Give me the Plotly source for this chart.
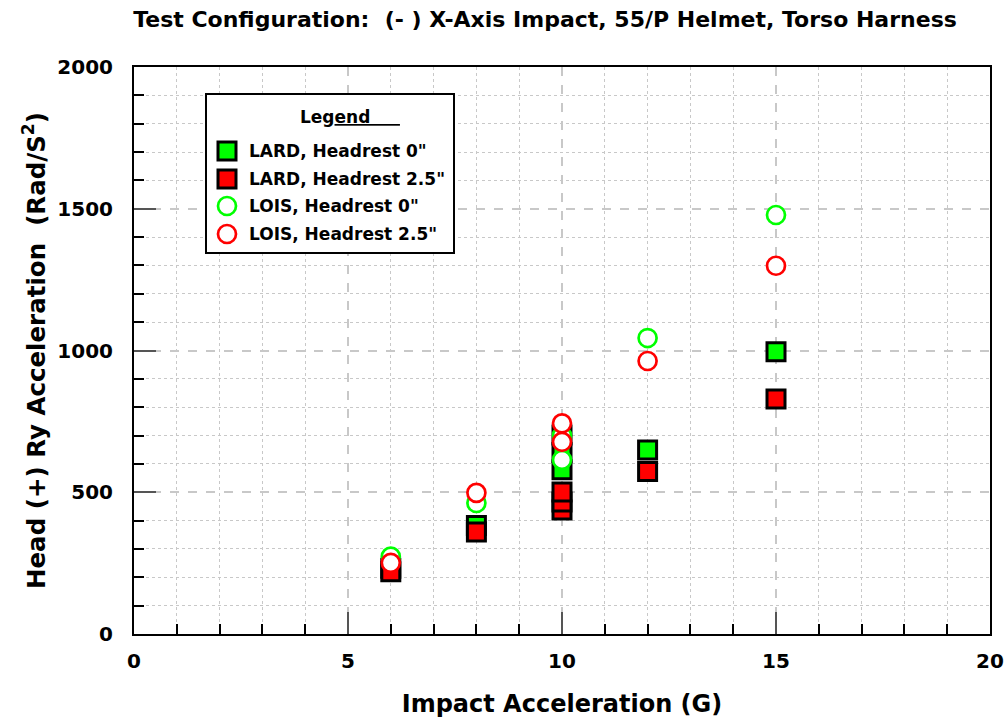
import plotly.graph_objects as go

# ---- data ----
lard0_x = [6, 8, 10, 10, 10, 12, 15]
lard0_y = [232, 383, 702, 640, 579, 649, 996]
lard25_x = [6, 8, 10, 10, 10, 12, 15]
lard25_y = [220, 360, 437, 466, 501, 573, 829]
lois0_x = [6, 8, 10, 10, 12, 15]
lois0_y = [273, 462, 700, 614, 1044, 1478]
lois25_x = [6, 8, 10, 10, 12, 15]
lois25_y = [251, 498, 678, 743, 963, 1299]

names = ['LARD, Headrest 0"', 'LARD, Headrest 2.5"',
         'LOIS, Headrest 0"', 'LOIS, Headrest 2.5"']

FONT = "DejaVu Sans, Liberation Sans, Arial, sans-serif"
GREEN = "#00ff00"
RED = "#ff0000"

styles = [
    dict(symbol="square", size=18, color=GREEN, line=dict(color="black", width=3)),
    dict(symbol="square", size=18, color=RED, line=dict(color="black", width=3)),
    dict(symbol="circle", size=18, color="white", line=dict(color=GREEN, width=2.7)),
    dict(symbol="circle", size=18, color="white", line=dict(color=RED, width=2.7)),
]
series = [(lard0_x, lard0_y), (lard25_x, lard25_y), (lois0_x, lois0_y), (lois25_x, lois25_y)]

fig = go.Figure()
for (xs, ys), nm, st in zip(series, names, styles):
    fig.add_trace(go.Scatter(x=xs, y=ys, mode="markers", name=nm,
                             marker=st, showlegend=False))

W, H = 1008, 724
L, R, T, B = 134, 990, 67, 634
PW, PH = R - L, B - T


def px(xp):
    return (xp - L) / PW


def py(yp):
    return (B - yp) / PH


axis_common = dict(
    showline=True, linecolor="black", linewidth=2, mirror=True,
    showgrid=True, gridcolor="#c8c8c8", gridwidth=1.5, griddash="dash",
    ticks="inside", ticklen=22, tickcolor="#555555", tickwidth=2,
    zeroline=False, automargin=False,
    tickfont=dict(family=FONT, size=20, color="black", weight="bold"),
)

fig.update_xaxes(
    range=[0, 20], dtick=5, tick0=0, **axis_common,
    minor=dict(dtick=1, showgrid=True, gridcolor="#c8c8c8", gridwidth=1,
               griddash="dot", ticks="inside", ticklen=10, tickcolor="black",
               tickwidth=2),
    ticklabelstandoff=8,
    title=dict(text="Impact Acceleration (G)", standoff=23,
               font=dict(family=FONT, size=24, color="black", weight="bold")),
)
fig.update_yaxes(
    range=[0, 2000], dtick=500, tick0=0, **axis_common,
    minor=dict(dtick=100, showgrid=True, gridcolor="#c8c8c8", gridwidth=1,
               griddash="dot", ticks="inside", ticklen=10, tickcolor="black",
               tickwidth=2),
    ticklabelstandoff=15,
    title=dict(text="Head (+) Ry Acceleration  (Rad/S<sup>2</sup>)", standoff=5,
               font=dict(family=FONT, size=24.5, color="black", weight="bold")),
)

# ---- legend (box, title, symbols, labels) ----
fig.add_shape(type="rect", xref="paper", yref="paper",
              x0=px(206), x1=px(454), y0=py(253), y1=py(94),
              line=dict(color="black", width=2), fillcolor="white", layer="above")
fig.add_annotation(xref="paper", yref="paper", x=px(298), y=py(117),
                   xanchor="left", yanchor="middle", showarrow=False,
                   text="Leg<u>end&nbsp;&nbsp;&nbsp;&nbsp;&nbsp;</u>",
                   font=dict(family=FONT, size=17, color="black", weight="bold"))

row_y = [151, 179, 206, 234]
sym_x = 227
half = 9
for ry, nm, st in zip(row_y, names, styles):
    kind = "rect" if st["symbol"] == "square" else "circle"
    fig.add_shape(type=kind, xref="paper", yref="paper",
                  x0=px(sym_x - half), x1=px(sym_x + half),
                  y0=py(ry + half), y1=py(ry - half),
                  line=dict(color=st["line"]["color"], width=st["line"]["width"]),
                  fillcolor=st["color"], layer="above")
    fig.add_annotation(xref="paper", yref="paper", x=px(247), y=py(ry),
                       xanchor="left", yanchor="middle", showarrow=False,
                       text=nm,
                       font=dict(family=FONT, size=17, color="black", weight="bold"))

fig.update_layout(
    width=W, height=H,
    margin=dict(l=L, r=W - R, t=T, b=H - B),
    paper_bgcolor="white", plot_bgcolor="white",
    title=dict(text="Test Configuration:  (- ) X-Axis Impact, 55/P Helmet, Torso Harness",
               x=545 / W, xref="container", xanchor="center",
               y=1 - 19 / H, yref="container", yanchor="middle",
               font=dict(family=FONT, size=22, color="black", weight="bold")),
    showlegend=False,
)

fig.write_html("out.html", config={"displayModeBar": False},
               post_script="document.body.style.margin='0';document.body.style.overflow='hidden';")
